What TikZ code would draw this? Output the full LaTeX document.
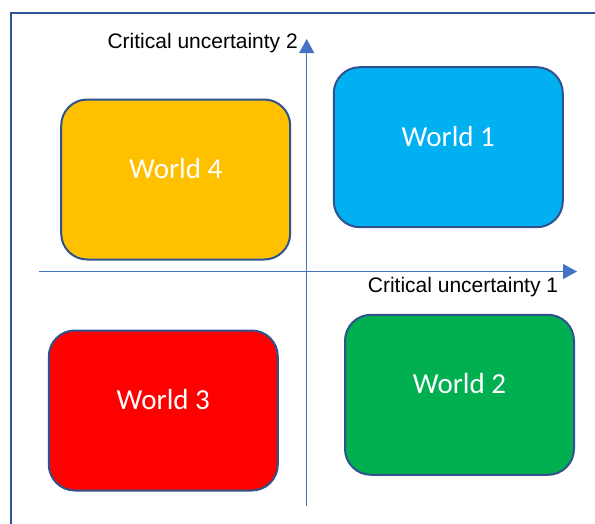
\documentclass[tikz,border=0pt]{standalone}
\usepackage{fontspec}
\setmainfont{Liberation Sans}
\newfontfamily\worldfont{Carlito}
\usetikzlibrary{arrows.meta}
\definecolor{framecolor}{HTML}{2F5597}
\definecolor{boxline}{HTML}{2F528F}
\definecolor{axiscolor}{HTML}{4472C4}
\definecolor{worldone}{HTML}{00B0F0}
\definecolor{worldtwo}{HTML}{00B050}
\definecolor{worldthree}{HTML}{FF0000}
\definecolor{worldfour}{HTML}{FFC000}
\begin{document}
\begin{tikzpicture}
[x=1pt,y=-1pt,
  worlddecorate/.style={shape=rectangle,rounded corners=26pt,draw=boxline,line width=2pt,%
    minimum width=229pt,minimum height=160pt,inner sep=0pt},
  textdecorate/.style={text=white,font=\worldfont\fontsize{29}{34}\selectfont},
  labeldecorate/.style={inner sep=0pt,anchor=base east,font=\fontsize{21}{25}\selectfont},
  axisdecorate/.style={-{Triangle[length=14pt,width=15pt]},draw=axiscolor,line width=1.2pt}]
\useasboundingbox (0,0) rectangle (595,523);
%% frame
\draw[framecolor,line width=2pt] (10.5,540) -- (10.5,13.3) -- (610,13.3);
%% axes
\coordinate (xstart) at (39,271.5);
\coordinate (xend) at (577,271.5);
\coordinate (ystart) at (306.7,506);
\coordinate (yend) at (306.7,39);
\path
\foreach \startnode/\endnode in {ystart/yend, xstart/xend} {
  (\startnode) edge[axisdecorate] (\endnode)
};
\node (ylabel) at (298,48.3) [labeldecorate] {Critical uncertainty 2};
\node (xlabel) at (558.3,292.3) [labeldecorate] {Critical uncertainty 1};
%% worlds
\foreach \nodename/\x/\y/\fillcolor/\worldtext in {%
    worldA/448.3/147.2/worldone/World 1, worldB/459.5/394.8/worldtwo/World 2,%
    worldC/163.3/410.5/worldthree/World 3, worldD/175.7/179.5/worldfour/World 4} {
  \node (\nodename) at (\x,\y) [worlddecorate,fill=\fillcolor,%
    label={[textdecorate,yshift=11pt]center:\worldtext}] {};
}
\end{tikzpicture}
\end{document}
